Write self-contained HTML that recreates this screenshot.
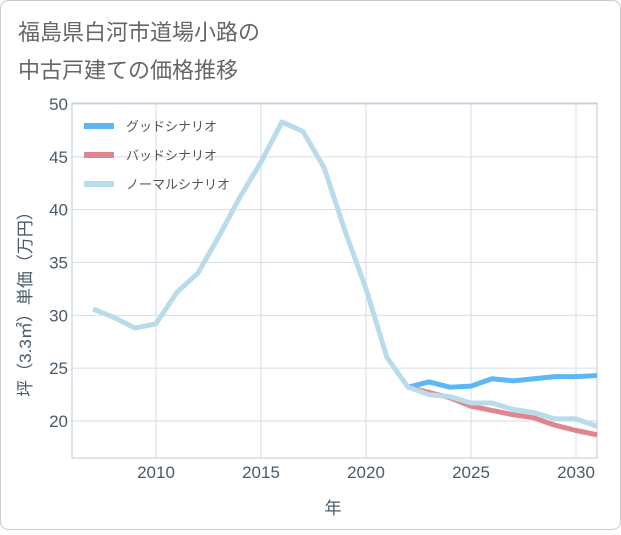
<!DOCTYPE html>
<html><head><meta charset="utf-8">
<style>
body{margin:0;background:#fff;}
#wrap{position:relative;width:621px;height:530px;}
svg{font-family:"Liberation Sans","Noto Sans CJK JP",sans-serif;}
</style></head>
<body>
<div id="wrap">
<svg id="chart" width="621" height="530">
<rect x="0.5" y="0.5" width="620" height="529" rx="8" fill="#fff" stroke="#ccc"/>
<text x="18" y="40" font-size="22" fill="#666">福島県白河市道場小路の</text>
<text x="18" y="78" font-size="22" fill="#666">中古戸建ての価格推移</text>
<g id="grid"></g>
<g id="axes"></g>
<g id="series"></g>
<g id="legend"></g>
<text x="333" y="514" font-size="17" fill="#4a5a6a" text-anchor="middle">年</text>
<text transform="translate(31,300) rotate(-90)" font-size="17" fill="#4a5a6a" text-anchor="middle">坪（3.3㎡）単価（万円）</text>
</svg>
</div>
<script>
const years=[2007,2008,2009,2010,2011,2012,2013,2014,2015,2016,2017,2018,2019,2020,2021,2022,2023,2024,2025,2026,2027,2028,2029,2030,2031];
const normalValues=[30.6,29.8,28.8,29.2,32.2,34,37.5,41.2,44.5,48.3,47.4,44,38,32.5,26,23.2,22.5,22.3,21.7,21.7,21.1,20.8,20.2,20.2,19.5];
const goodYears=[2022,2023,2024,2025,2026,2027,2028,2029,2030,2031];
const goodValues=[23.2,23.7,23.2,23.3,24.0,23.8,24.0,24.2,24.2,24.3];
const badValues=[23.2,22.7,22.2,21.4,21.0,20.6,20.3,19.6,19.1,18.7];
const xTicks=[2010,2015,2020,2025,2030];
const yTicks=[20,25,30,35,40,45,50];
const seriesNames=["グッドシナリオ","バッドシナリオ","ノーマルシナリオ"];
const NS="http://www.w3.org/2000/svg";
const X0=72,X1=597,Y0=103,Y1=458;
function xs(y){return 156+(y-2010)*21;}
function ys(v){return 421-(v-20)*(317/30);}
function mk(t,a,p){const e=document.createElementNS(NS,t);for(const k in a)e.setAttribute(k,a[k]);p.appendChild(e);return e;}
const grid=document.getElementById('grid'),axes=document.getElementById('axes'),ser=document.getElementById('series'),leg=document.getElementById('legend');
xTicks.forEach(t=>{
 const l=mk('line',{x1:xs(t),x2:xs(t),y1:Y0,y2:Y1,stroke:'#d5dee8'},grid);
 
 
 const tx=mk('text',{x:xs(t),y:Y1+20,'font-size':17,fill:'#4a5a6a','text-anchor':'middle'},axes);tx.textContent=t;
 
 
});
yTicks.forEach(t=>{
 const l=mk('line',{x1:X0,x2:X1,y1:ys(t),y2:ys(t),stroke:'#d5dee8'},grid);
 
 
 const tx=mk('text',{x:X0-4,y:ys(t)+6,'font-size':17,fill:'#4a5a6a','text-anchor':'end'},axes);tx.textContent=t;
 
 
});
const fr=mk('rect',{x:X0,y:Y0,width:X1-X0,height:Y1-Y0,fill:'none',stroke:'#bcc8d4'},axes);


function line(xv,vals,color,name){
 const p=mk('polyline',{points:xv.map((y,i)=>xs(y)+','+ys(vals[i])).join(' '),fill:'none',stroke:color,'stroke-width':5,'stroke-linejoin':'round'},ser);
 
 
}
line(goodYears,goodValues,'#5bb8f5','good-scenario-line');
line(goodYears,badValues,'#e0858e','bad-scenario-line');
line(years,normalValues,'#b8dcea','normal-scenario-line');
const colors=['#5bb8f5','#e0858e','#b8dcea'];
seriesNames.forEach((n,i)=>{
 const y=126+i*29;
 const l=mk('line',{x1:84,x2:114,y1:y,y2:y,stroke:colors[i],'stroke-width':6},leg);
 
 
 const t=mk('text',{x:126,y:y+5,'font-size':13,fill:'#555'},leg);t.textContent=n;
 
 
});
</script>
</body></html>
